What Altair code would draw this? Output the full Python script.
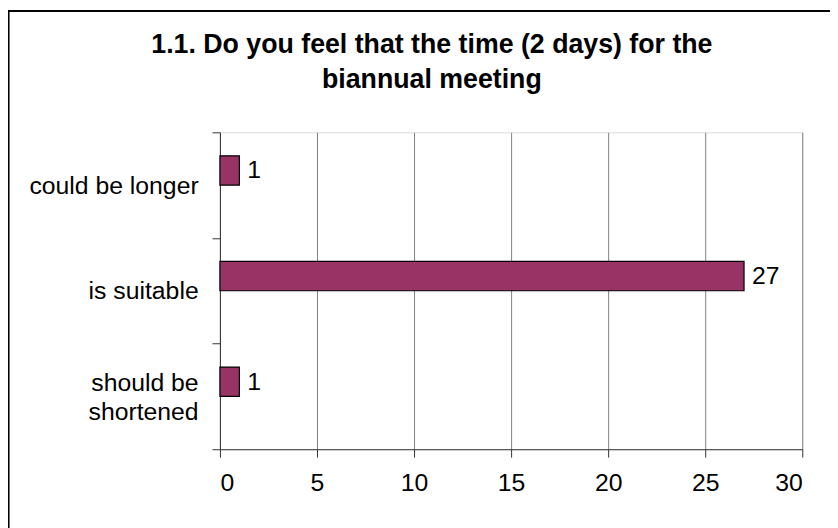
import altair as alt
import pandas as pd

categories = ["could be longer", "is suitable", "should be shortened"]
counts = [1, 27, 1]
series = ["answers", "answers", "answers"]
series_domain = ["answers", "(empty)"]
x_ticks = [0, 5, 10, 15, 20, 25, 30]
title_lines = ["1.1. Do you feel that the time (2 days) for the", "biannual meeting"]

df = pd.DataFrame({"category": categories, "count": counts, "series": series})

W, H = 588, 320
FONT = "Liberation Sans"
FS = 25

y_enc = alt.Y(
    "category:N",
    sort=categories,
    title=None,
    scale=alt.Scale(paddingInner=0, paddingOuter=0),
    axis=alt.Axis(
        tickBand="extent",
        tickSize=8,
        labelPadding=14,
        labelFontSize=FS,
        labelFont=FONT,
        labelColor="black",
        labelLineHeight=29,
        labelLimit=400,
        labelOffset={"condition": {"test": "datum.value == 'should be shortened'", "value": -14}, "value": 0},
        domainColor="#333333",
        tickColor="#333333",
        grid=False,
        labelExpr="datum.label == 'should be shortened' ? ['should be', 'shortened'] : datum.label",
    ),
)
yoff = alt.YOffset(
    "series:N",
    scale=alt.Scale(domain=series_domain, paddingInner=0, paddingOuter=0.8),
)
x_enc = alt.X(
    "count:Q",
    title=None,
    scale=alt.Scale(domain=[0, 30], nice=False),
    axis=alt.Axis(
        values=x_ticks,
        grid=True,
        gridColor="#808080",
        gridWidth=1,
        tickSize=8,
        labelPadding=14,
        labelFontSize=FS,
        labelFont=FONT,
        labelColor="black",
        domainColor="#333333",
        tickColor="#333333",
    ),
)

bars = alt.Chart(df).mark_bar(color="#993366", stroke="black", strokeWidth=1.2).encode(
    y=y_enc, yOffset=yoff, x=x_enc
)
labels = alt.Chart(df).mark_text(
    align="left", baseline="middle", dx=8, fontSize=FS, font=FONT, color="black"
).encode(y=y_enc, yOffset=yoff, x=x_enc, text="count:Q")

frame = alt.Chart(df).mark_rect(fill=None, stroke="black", strokeWidth=1.5).encode(
    x=alt.value(-213.5), x2=alt.value(W + 80), y=alt.value(-122.5), y2=alt.value(H + 100)
)

chart = (
    alt.layer(bars, labels, frame)
    .properties(
        width=W,
        height=H,
        autosize=alt.AutoSizeParams(type="none"),
        padding={"left": 214, "top": 123, "right": 28, "bottom": 77},
        title=alt.TitleParams(
            text=title_lines,
            font=FONT,
            fontSize=27,
            fontWeight="bold",
            color="black",
            anchor="middle",
            frame="group",
            dx=-80,
            offset=0,
            dy=84,
            lineHeight=35,
        ),
    )
    .configure_view(stroke="#808080", strokeWidth=1)
    .configure(background="white")
)

chart.save("out.html", embed_options={"renderer": "svg", "actions": False})
